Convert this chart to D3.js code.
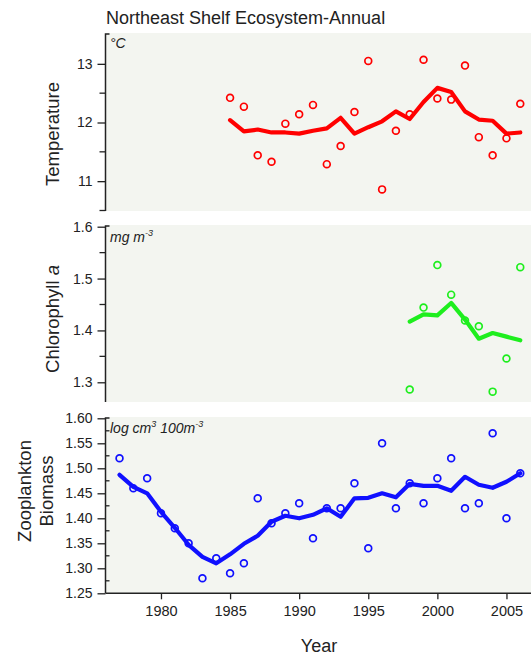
<!DOCTYPE html>
<html>
<head>
<meta charset="utf-8">
<script src="https://cdn.jsdelivr.net/npm/d3@7"></script>
<style>
  body { margin: 0; background: #fff; }
  text { font-family: "Liberation Sans", Arial, sans-serif; fill: #222; }
</style>
</head>
<body>
<div id="chart"></div>
<script>
// Temperature (annual), 1985-2006
let tempYears = d3.range(1985, 2007);
let tempPoints = [12.42, 12.27, 11.44, 11.33, 11.98, 12.14, 12.30, 11.29, 11.60, 12.18, 13.05,
                  10.86, 11.86, 12.14, 13.07, 12.41, 12.39, 12.97, 11.75, 11.44, 11.73, 12.32];
let tempLine = [12.04, 11.85, 11.88, 11.83, 11.83, 11.81, 11.86, 11.90, 12.08, 11.81, 11.92,
                12.02, 12.19, 12.06, 12.35, 12.59, 12.52, 12.19, 12.05, 12.03, 11.81, 11.83];

// Chlorophyll a, 1998-2006
let chlYears = d3.range(1998, 2007);
let chlPoints = [1.286, 1.444, 1.526, 1.469, 1.419, 1.408, 1.282, 1.346, 1.522];
let chlLine = [1.417, 1.431, 1.429, 1.453, 1.421, 1.384, 1.395, 1.388, 1.381];

// Zooplankton biomass, 1977-2006
let zooYears = d3.range(1977, 2007);
let zooPoints = [1.52, 1.46, 1.48, 1.41, 1.38, 1.35, 1.28, 1.32, 1.29, 1.31, 1.44, 1.39, 1.41, 1.43, 1.36,
                 1.42, 1.42, 1.47, 1.34, 1.55, 1.42, 1.47, 1.43, 1.48, 1.52, 1.42, 1.43, 1.57, 1.40, 1.49];
let zooLine = [1.487, 1.463, 1.450, 1.413, 1.381, 1.347, 1.323, 1.310, 1.328, 1.349, 1.365, 1.393, 1.405, 1.400, 1.407,
               1.420, 1.403, 1.440, 1.441, 1.450, 1.442, 1.469, 1.465, 1.465, 1.455, 1.483, 1.467, 1.461, 1.473, 1.490];

let yearTicks = [1980, 1985, 1990, 1995, 2000, 2005];
let tempTicks = [11, 12, 13];
let chlTicks = [1.3, 1.4, 1.5, 1.6];
let zooTicks = [1.25, 1.30, 1.35, 1.40, 1.45, 1.50, 1.55, 1.60];

let W = 531, H = 656;
let left = 105.5, right = 531;

let svg = d3.select("#chart").append("svg")
    .attr("width", W)
    .attr("height", H);

let x = d3.scaleLinear().domain([1976, 2007]).range([105.7, 534.1]);

let panels = [
  {years: tempYears, pts: tempPoints, line: tempLine, color: "#ff0000",
   y: d3.scaleLinear().domain([10.5, 13.5]).range([210.5, 34.5]), top: 33, bottom: 211,
   ticks: tempTicks, minor: [10.5, 11.5, 12.5], fmt: d3.format("d"), inMinor: false},
  {years: chlYears, pts: chlPoints, line: chlLine, color: "#1eee1e",
   y: d3.scaleLinear().domain([1.262, 1.6]).range([402, 226.7]), top: 225, bottom: 402,
   ticks: chlTicks, minor: [1.35, 1.45, 1.55], fmt: d3.format(".1f"), inMinor: false},
  {years: zooYears, pts: zooPoints, line: zooLine, color: "#1010ff",
   y: d3.scaleLinear().domain([1.25, 1.6]).range([593.3, 418.3]), top: 417, bottom: 593.3,
   ticks: zooTicks, minor: d3.range(1.275, 1.6, 0.05), fmt: d3.format(".2f"), inMinor: true}
];

panels.forEach(p => {
  let g = svg.append("g");

  g.append("rect")
      .attr("x", left).attr("y", p.top)
      .attr("width", right - left).attr("height", p.bottom - p.top)
      .attr("fill", "#f3f5f0");

  // left axis
  let axis = g.append("g")
      .attr("transform", "translate(" + left + ",0)")
      .call(d3.axisLeft(p.y).tickValues(p.ticks).tickFormat(p.fmt).tickSize(8).tickPadding(5));
  axis.select(".domain").remove();
  axis.selectAll("line").attr("stroke", "#222").attr("stroke-width", 1.3);
  axis.selectAll("text").style("font-size", "14px").attr("fill", "#222");

  g.selectAll(".minor")
    .data(p.minor)
    .enter().append("line")
      .attr("x1", left)
      .attr("x2", p.inMinor ? left + 4 : left - 6)
      .attr("y1", d => p.y(d)).attr("y2", d => p.y(d))
      .attr("stroke", "#222").attr("stroke-width", 1.3);

  g.append("path")
      .attr("d", "M" + (left + 4) + "," + (p.top + 1) + "H" + left + "V" + p.bottom)
      .attr("fill", "none").attr("stroke", "#222").attr("stroke-width", 1.5);

  let lineGen = d3.line()
      .x((d, i) => x(p.years[i]))
      .y(d => p.y(d));

  g.append("path")
      .datum(p.line)
      .attr("d", lineGen)
      .attr("fill", "none")
      .attr("stroke", p.color)
      .attr("stroke-width", 4.2)
      .attr("stroke-linejoin", "round")
      .attr("stroke-linecap", "round");

  g.selectAll(".pt")
    .data(p.pts)
    .enter().append("circle")
      .attr("cx", (d, i) => x(p.years[i]))
      .attr("cy", d => p.y(d))
      .attr("r", 3.4)
      .attr("fill", "none")
      .attr("stroke", p.color)
      .attr("stroke-width", 1.7);
});

// bottom x axis
let xAxis = svg.append("g")
    .attr("transform", "translate(0,593.3)")
    .call(d3.axisBottom(x).tickValues(yearTicks).tickFormat(d3.format("d")).tickSize(6).tickPadding(6));
xAxis.select(".domain").remove();
xAxis.selectAll("line").attr("stroke", "#222").attr("stroke-width", 1.3);
xAxis.selectAll("text").style("font-size", "14.5px").attr("fill", "#222");

svg.append("line")
    .attr("x1", left).attr("x2", right)
    .attr("y1", 593.3).attr("y2", 593.3)
    .attr("stroke", "#222").attr("stroke-width", 1.5);

// titles and labels
svg.append("text")
    .attr("x", 106).attr("y", 24)
    .style("font-size", "18px")
    .text("Northeast Shelf Ecosystem-Annual");

svg.append("text")
    .attr("x", 319).attr("y", 652)
    .attr("text-anchor", "middle")
    .style("font-size", "18px")
    .text("Year");

let yLabel = (cx, cy, txt) => svg.append("text")
    .attr("transform", "translate(" + cx + "," + cy + ") rotate(-90)")
    .attr("text-anchor", "middle")
    .style("font-size", "18.5px")
    .text(txt);

yLabel(59, 134, "Temperature");
let chl = yLabel(59, 319, "Chlorophyll ");
chl.append("tspan").style("font-style", "italic").text("a");
yLabel(31, 491, "Zooplankton");
yLabel(53, 491, "Biomass");

// unit labels
let unit = (ux, uy) => svg.append("text")
    .attr("x", ux).attr("y", uy)
    .style("font-size", "14px")
    .style("font-style", "italic");

unit(110, 48).text("°C");

let u2 = unit(110, 242);
u2.append("tspan").text("mg m");
u2.append("tspan").attr("dy", -6).style("font-size", "9px").text("-3");

let u3 = unit(110, 433);
u3.append("tspan").text("log cm");
u3.append("tspan").attr("dy", -6).style("font-size", "9px").text("3");
u3.append("tspan").attr("dy", 6).text(" 100m");
u3.append("tspan").attr("dy", -6).style("font-size", "9px").text("-3");
</script>
</body>
</html>
